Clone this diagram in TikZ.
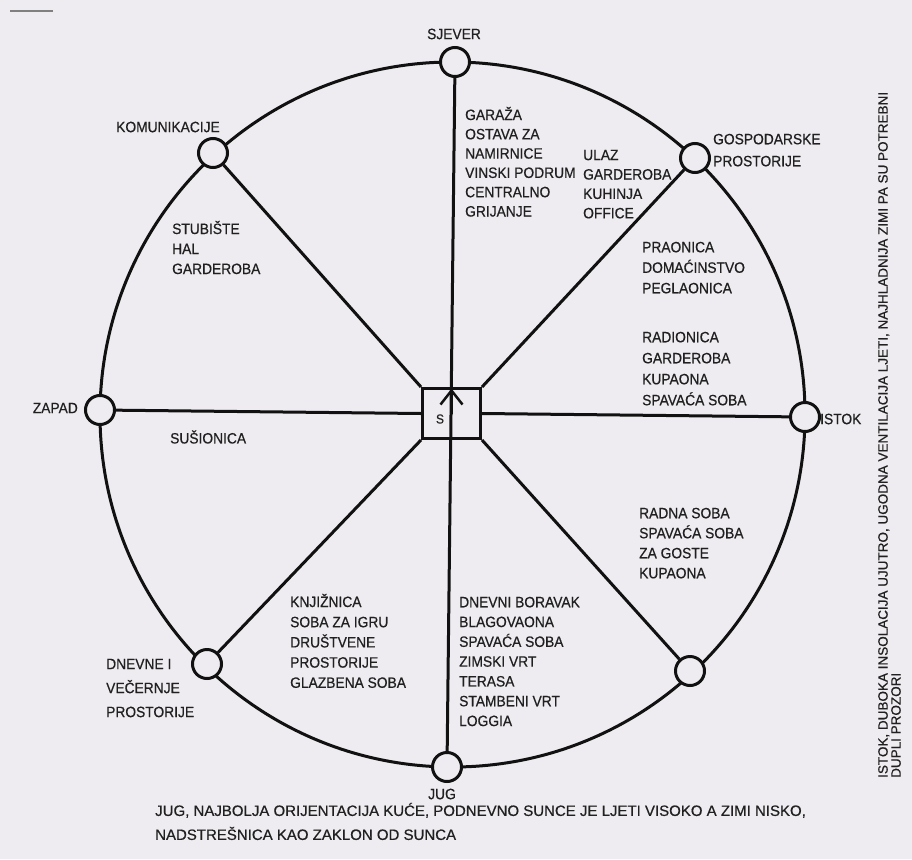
\documentclass[tikz,border=0pt]{standalone}
\usepackage{fontspec}
\usetikzlibrary{arrows.meta}
\newfontfamily\labfont{Liberation Sans}[FakeStretch=0.92, FakeBold=0.6]
\newfontfamily\notefont{Liberation Sans}[FakeBold=0.6]
\definecolor{bgc}{RGB}{238,236,240}
\definecolor{ink}{RGB}{17,17,17}
\definecolor{txt}{RGB}{32,32,32}
\tikzset{
  ring/.style={draw=ink, line width=3pt},
  spoke/.style={draw=ink, line width=3pt},
  hub/.style={circle, draw=ink, line width=3pt, fill=bgc, minimum size=29pt, inner sep=0pt},
  sqbox/.style={rectangle, draw=ink, line width=3pt, minimum width=58pt, minimum height=50pt, inner sep=0pt},
  lbl/.style={text=txt, inner sep=0pt, align=left, anchor=north west, font=\labfont\fontsize{15}{20}\selectfont},
  tag/.style={text=txt, inner sep=0pt, font=\labfont\fontsize{15}{20}\selectfont},
}
\begin{document}
\begin{tikzpicture}[x=1pt, y=-1pt]
\fill[bgc] (0,0) rectangle (912,859);
\useasboundingbox (0,0) rectangle (912,859);
\draw[gray, line width=2pt] (10,11) -- (53,11);

\coordinate (ctr) at (452.5,414.5);
\draw[ring] (ctr) circle[radius=352.5];

\node[sqbox] (sq) at (451.5,413.5) {};

\node[hub] (N) at (455,62) {};
\node[hub] (NE) at (695,158) {};
\node[hub] (E) at (805,417) {};
\node[hub] (SE) at (690,671) {};
\node[hub] (S) at (447,767) {};
\node[hub] (SW) at (207,664) {};
\node[hub] (W) at (100,410) {};
\node[hub] (NW) at (213,153) {};

\draw[spoke] (N) -- (S);
\draw[spoke] (NW) -- (sq.north west);
\draw[spoke] (NE) -- (sq.north east);
\draw[spoke] (SE) -- (sq.south east);
\draw[spoke] (SW) -- (sq.south west);
\draw[spoke] (W) -- (sq.west);
\draw[spoke] (sq.east) -- (E);
\coordinate (sqtop) at ([yshift=-1.5pt]sq.north);
\draw[draw=ink, line width=2.5pt, -{Straight Barb[length=14pt, width=22pt]}] (sq.center) -- (sqtop);
\node[tag, font=\labfont\fontsize{13}{14}\selectfont] (slab) at (440,419) {S};

% compass labels
\node[tag] (tN) at (454,34) {SJEVER};
\node[tag] (tS) at (442,794) {JUG};
\node[tag, anchor=east] (tW) at (78,408) {ZAPAD};
\node[tag, anchor=west] (tE) at (820,419) {ISTOK};
\node[tag] (tNW) at (168,127) {KOMUNIKACIJE};
\node[lbl, font=\labfont\fontsize{15}{22}\selectfont] (tNE) at (713,133.6) {GOSPODARSKE\\PROSTORIJE};
\node[lbl, font=\labfont\fontsize{15}{24}\selectfont] (tSW) at (106,658.6) {DNEVNE I\\VEČERNJE\\PROSTORIJE};

% room lists
\node[lbl, font=\labfont\fontsize{15}{19.3}\selectfont] (bN) at (465,106.7) {GARAŽA\\OSTAVA ZA\\NAMIRNICE\\VINSKI PODRUM\\CENTRALNO\\GRIJANJE};
\node[lbl, font=\labfont\fontsize{15}{19.4}\selectfont] (bNE) at (583,149.6) {ULAZ\\GARDEROBA\\KUHINJA\\OFFICE};
\node[lbl, font=\labfont\fontsize{15}{20.5}\selectfont] (bE1) at (642,241.6) {PRAONICA\\DOMAĆINSTVO\\PEGLAONICA};
\node[lbl, font=\labfont\fontsize{15}{21}\selectfont] (bE2) at (642,331.6) {RADIONICA\\GARDEROBA\\KUPAONA\\SPAVAĆA SOBA};
\node[lbl] (bNW) at (172,220.7) {STUBIŠTE\\HAL\\GARDEROBA};
\node[tag, anchor=west] (bW) at (170,437) {SUŠIONICA};
\node[lbl, font=\labfont\fontsize{15}{20.2}\selectfont] (bSW) at (290,593.7) {KNJIŽNICA\\SOBA ZA IGRU\\DRUŠTVENE\\PROSTORIJE\\GLAZBENA SOBA};
\node[lbl, font=\labfont\fontsize{15}{19.8}\selectfont] (bS) at (459,596.6) {DNEVNI BORAVAK\\BLAGOVAONA\\SPAVAĆA SOBA\\ZIMSKI VRT\\TERASA\\STAMBENI VRT\\LOGGIA};
\node[lbl] (bSE) at (639,507.6) {RADNA SOBA\\SPAVAĆA SOBA\\ZA GOSTE\\KUPAONA};

% notes
\node[lbl, font=\notefont\fontsize{15}{24}\selectfont] (noteS) at (155,802.7) {JUG, NAJBOLJA ORIJENTACIJA KUĆE, PODNEVNO SUNCE JE LJETI VISOKO A ZIMI NISKO,\\NADSTREŠNICA KAO ZAKLON OD SUNCA};
\node[lbl, rotate=90, font=\notefont\fontsize{13.5}{13}\selectfont] (noteE) at (878,778) {ISTOK, DUBOKA INSOLACIJA UJUTRO, UGODNA VENTILACIJA LJETI, NAJHLADNIJA ZIMI PA SU POTREBNI\\DUPLI PROZORI};
\end{tikzpicture}
\end{document}
